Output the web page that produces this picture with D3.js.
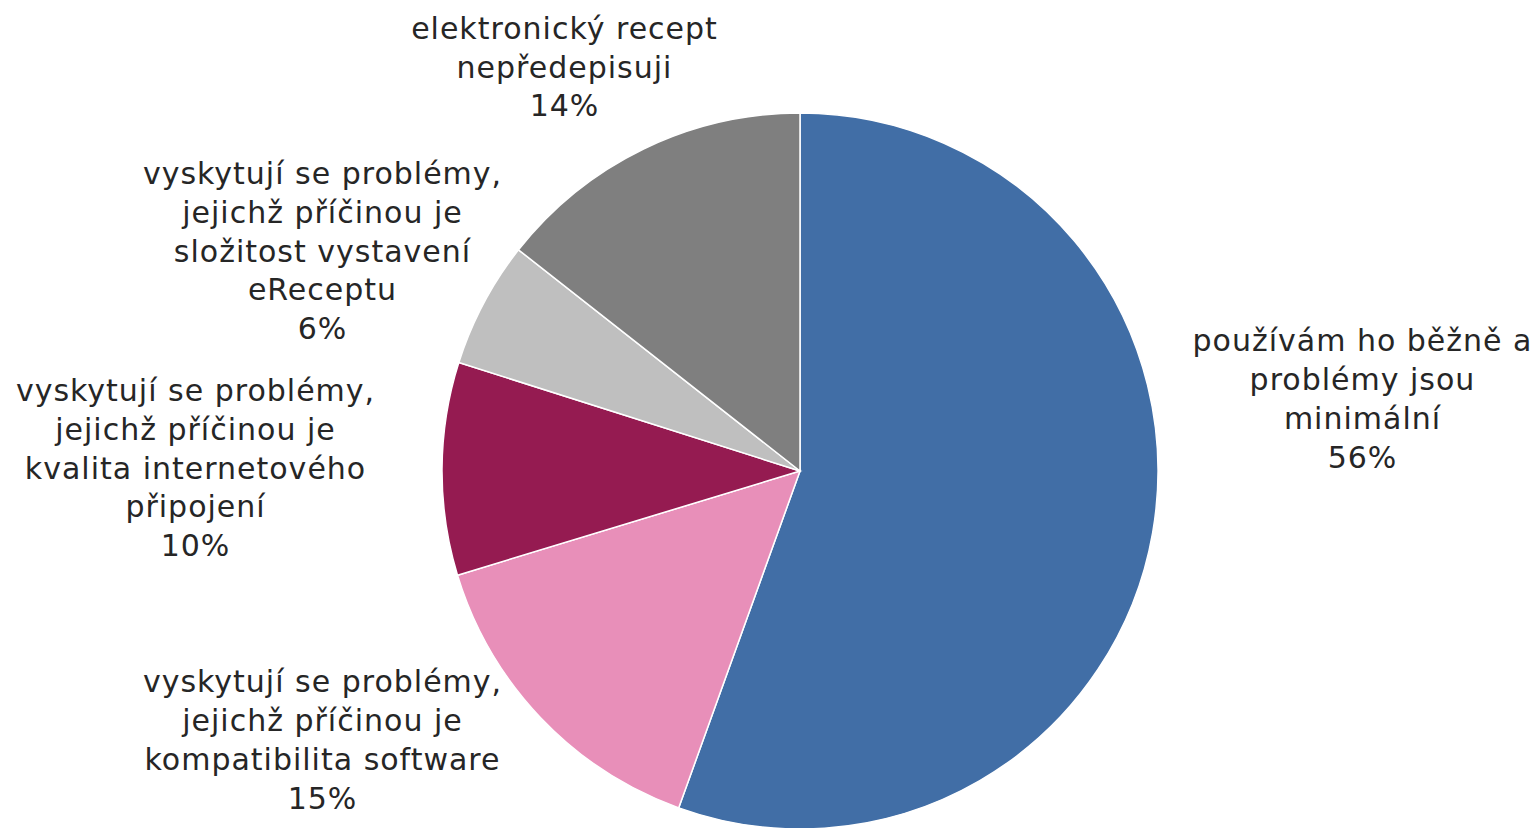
<!DOCTYPE html>
<html>
<head>
<meta charset="utf-8">
<script src="https://cdn.jsdelivr.net/npm/d3@7"></script>
<style>
  html, body { margin: 0; padding: 0; background: #fff; }
  svg text { font-family: 'DejaVu Sans', Verdana, sans-serif; fill: #262626; }
</style>
</head>
<body>
<div id="chart"></div>
<script>
// slice labels (clockwise from 12 o'clock)
const categories = [
  ['používám ho běžně a', 'problémy jsou', 'minimální'],
  ['vyskytují se problémy,', 'jejichž příčinou je', 'kompatibilita software'],
  ['vyskytují se problémy,', 'jejichž příčinou je', 'kvalita internetového', 'připojení'],
  ['vyskytují se problémy,', 'jejichž příčinou je', 'složitost vystavení', 'eReceptu'],
  ['elektronický recept', 'nepředepisuji']
]
const values = [55.5, 14.8, 9.6, 5.7, 14.4]
const percentLabels = ['56%', '15%', '10%', '6%', '14%']
const colors = ['#416ea6', '#e88fb9', '#951b51', '#bfbfbf', '#7f7f7f']

// label centres (layout only)
const labelPos = [[1362, 399], [322, 740], [195, 468], [322, 251], [564, 67]]

const width = 1538
const height = 828
const cx = 800
const cy = 471
const radius = 358
const lineH = 38.7

const svg = d3.select('#chart').append('svg')
  .attr('width', width)
  .attr('height', height)

const pie = d3.pie().sort(null).value(d => d)
const arc = d3.arc().innerRadius(0).outerRadius(radius)

const g = svg.append('g').attr('transform', `translate(${cx},${cy})`)

g.selectAll('path')
  .data(pie(values))
  .enter()
  .append('path')
  .attr('d', arc)
  .attr('fill', (d, i) => colors[i])
  .attr('stroke', '#fff')
  .attr('stroke-width', 1.5)

// labels
categories.forEach((lines, i) => {
  const all = lines.concat([percentLabels[i]])
  const [lx, ly] = labelPos[i]
  const top = ly - (all.length - 1) * lineH / 2
  const t = svg.append('text')
    .attr('text-anchor', 'middle')
    .style('font-size', '30px')
    .style('letter-spacing', '1px')
  all.forEach((s, j) => {
    t.append('tspan')
      .attr('x', lx + 0.5)
      .attr('y', top + j * lineH)
      .attr('dy', '0.35em')
      .text(s)
  })
})
</script>
</body>
</html>
